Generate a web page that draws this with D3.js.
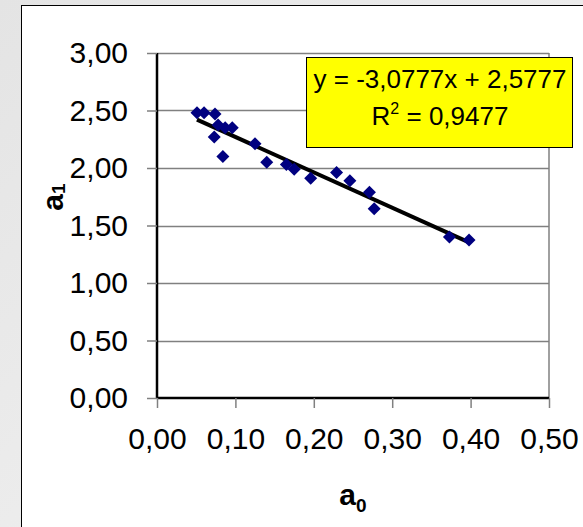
<!DOCTYPE html>
<html>
<head>
<meta charset="utf-8">
<script src="https://cdn.jsdelivr.net/npm/d3@7"></script>
<style>
  body { margin: 0; }
  svg { display: block; font-family: "Liberation Sans", Arial, sans-serif; }
</style>
</head>
<body>
<svg class="chart"></svg>
<script>

// measured points, a0 vs a1
var a0 = [0.051, 0.060, 0.074, 0.078, 0.087, 0.096, 0.073, 0.084, 0.125, 0.140,
          0.165, 0.175, 0.196, 0.229, 0.246, 0.271, 0.277, 0.373, 0.398];
var a1 = [2.48, 2.48, 2.47, 2.375, 2.35, 2.35, 2.27, 2.10, 2.21, 2.05,
          2.03, 1.99, 1.91, 1.96, 1.89, 1.79, 1.645, 1.40, 1.375];

var xTicks = [0, 0.1, 0.2, 0.3, 0.4, 0.5];
var yTicks = [0, 0.5, 1, 1.5, 2, 2.5, 3];

// trendline from the excel label
var slope = -3.0777, intercept = 2.5777;
var eqText = "y = -3,0777x + 2,5777";
var r2Text = "0,9477";

var W = 583, H = 527;
var margin = {top: 53, right: 34, bottom: 129, left: 157}
    , width = W - margin.left - margin.right
    , height = H - margin.top - margin.bottom;

var fmt = d3.formatLocale({decimal: ",", thousands: ".", grouping: [3], currency: ["", ""]}).format(".2f");

var x = d3.scaleLinear().domain([0, 0.5]).range([0, width]);
var y = d3.scaleLinear().domain([0, 3]).range([height, 0]);

var chart = d3.select('.chart')
    .attr('width', W)
    .attr('height', H);

// grey page + white chart frame
var grad = chart.append('defs').append('linearGradient')
    .attr('id', 'bg').attr('x1', 0).attr('y1', 0).attr('x2', 1).attr('y2', 1);
grad.append('stop').attr('offset', 0).attr('stop-color', '#e4e4e4');
grad.append('stop').attr('offset', 1).attr('stop-color', '#f4f4f4');

chart.append('rect').attr('width', W).attr('height', H).attr('fill', 'url(#bg)');
chart.append('rect')
    .attr('x', 21.5).attr('y', 5.5)
    .attr('width', W).attr('height', H)
    .attr('fill', '#fff').attr('stroke', '#000');

var main = chart.append('g')
    .attr('transform', 'translate(' + margin.left + ',' + margin.top + ')');

// gridlines
main.append('g').selectAll('line')
    .data(yTicks.slice(1))
    .enter().append('line')
    .attr('x1', 0).attr('x2', width)
    .attr('y1', function(d) { return Math.round(y(d)) + 0.5; })
    .attr('y2', function(d) { return Math.round(y(d)) + 0.5; })
    .attr('stroke', '#808080').attr('stroke-width', 1.5);

main.append('line')
    .attr('x1', width).attr('x2', width).attr('y1', 0).attr('y2', height)
    .attr('stroke', '#808080').attr('stroke-width', 1.5);

var yAxis = d3.axisLeft(y).tickValues(yTicks).tickSize(10).tickPadding(19).tickFormat(fmt);
var xAxis = d3.axisBottom(x).tickValues(xTicks).tickSize(10).tickPadding(20).tickFormat(fmt);

var gy = main.append('g').call(yAxis);
var gx = main.append('g').attr('transform', 'translate(0,' + height + ')').call(xAxis);

[gy, gx].forEach(function(g) {
  g.select('.domain').attr('stroke', '#000').attr('stroke-width', 2.5);
  g.selectAll('.tick line').attr('stroke', '#808080').attr('stroke-width', 1.5);
  g.selectAll('.tick text').attr('fill', '#000').style('font-size', '30px')
      .style('font-family', '"Liberation Sans", Arial, sans-serif');
});
gy.select('.domain').attr('d', 'M0,' + height + 'V0');
gx.select('.domain').attr('d', 'M0,0H' + width);

// trendline
var xMin = d3.min(a0), xMax = d3.max(a0);
main.append('line')
    .attr('x1', x(xMin)).attr('y1', y(slope * xMin + intercept))
    .attr('x2', x(xMax)).attr('y2', y(slope * xMax + intercept))
    .attr('stroke', '#000').attr('stroke-width', 4);

// diamonds
main.append('g').selectAll('path')
    .data(a0)
    .enter().append('path')
    .attr('transform', function(d, i) { return 'translate(' + x(d) + ',' + y(a1[i]) + ')'; })
    .attr('d', 'M0,-6.5L6.5,0L0,6.5L-6.5,0Z')
    .attr('fill', '#000080');

// axis titles
var xt = main.append('text')
    .attr('x', width / 2).attr('y', height + 107)
    .attr('text-anchor', 'middle')
    .style('font-size', '30px').style('font-weight', 'bold');
xt.append('tspan').text('a');
xt.append('tspan').attr('dy', 7).style('font-size', '19px').text('0');

var yt = chart.append('text')
    .attr('transform', 'translate(63,197) rotate(-90)')
    .attr('text-anchor', 'middle')
    .style('font-size', '30px').style('font-weight', 'bold');
yt.append('tspan').text('a');
yt.append('tspan').attr('dy', 2).style('font-size', '19px').text('1');

// equation label
chart.append('rect')
    .attr('x', 306.5).attr('y', 57.5).attr('width', 266).attr('height', 90)
    .attr('fill', '#ffff00').attr('stroke', '#000');

chart.append('text')
    .attr('x', 440).attr('y', 88)
    .attr('text-anchor', 'middle').style('font-size', '26px')
    .text(eqText);

var r2 = chart.append('text')
    .attr('x', 440).attr('y', 125)
    .attr('text-anchor', 'middle').style('font-size', '26px');
r2.append('tspan').text('R');
r2.append('tspan').attr('dy', -11).style('font-size', '16px').text('2');
r2.append('tspan').attr('dy', 11).text(' = ' + r2Text);

</script>
</body>
</html>
